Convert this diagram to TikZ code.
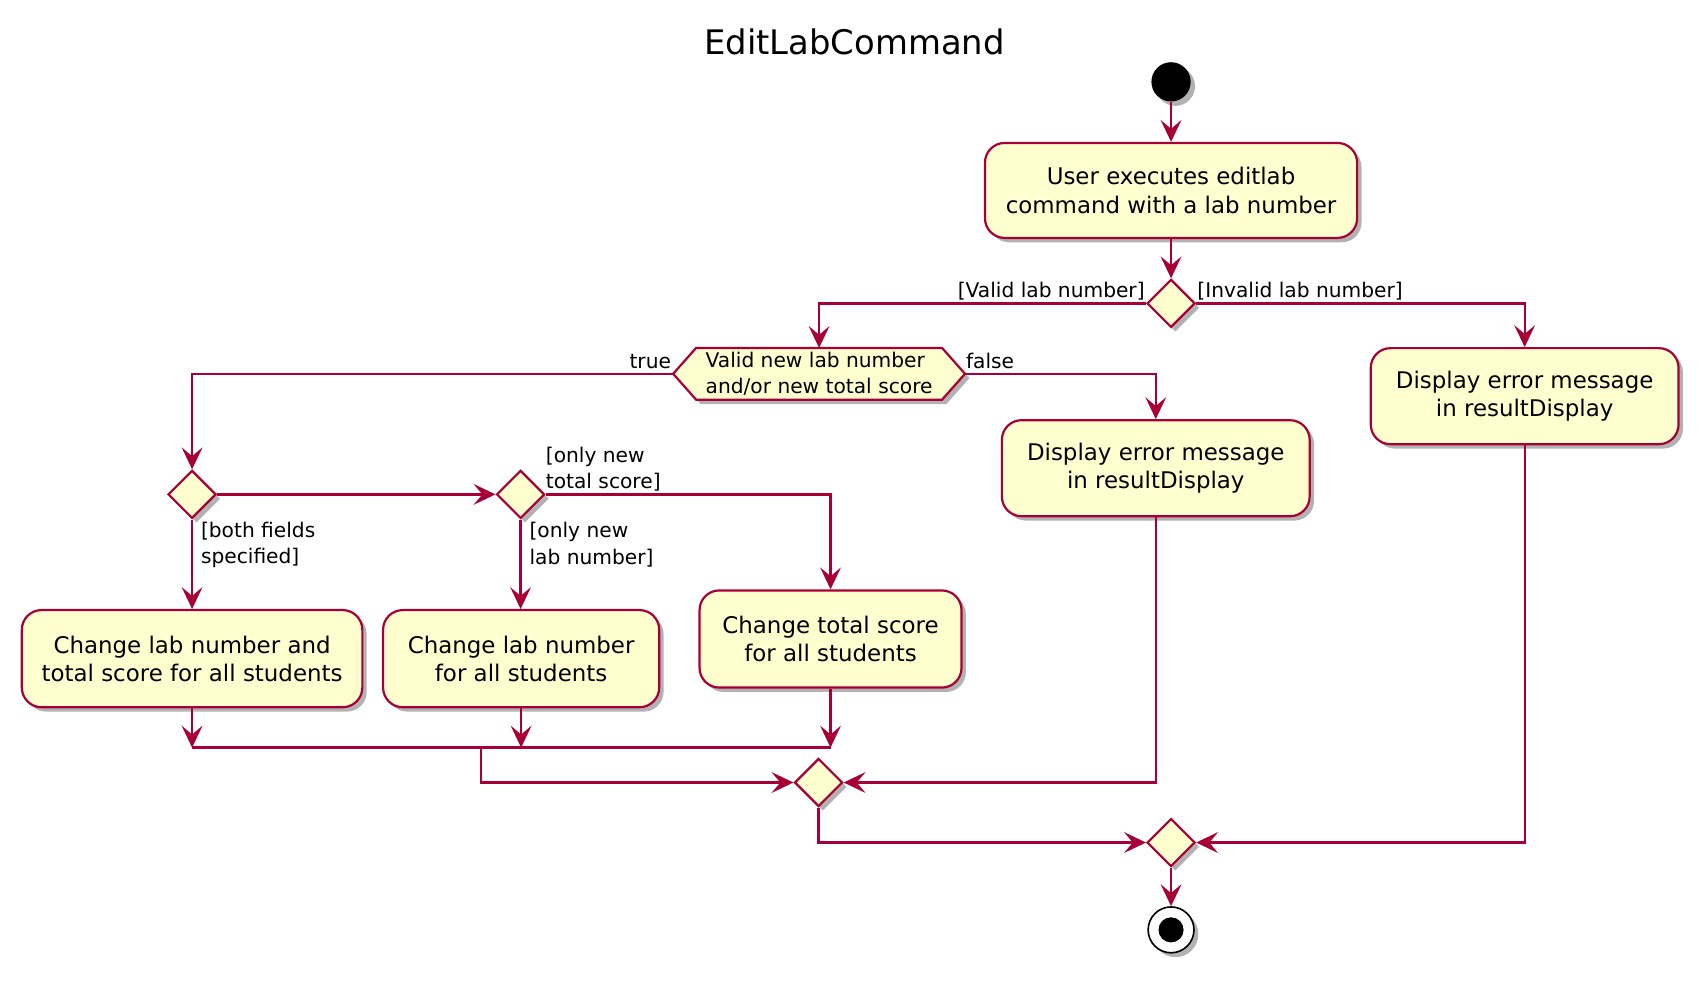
\documentclass[tikz,border=0pt]{standalone}
\usepackage{fontspec}
\setmainfont{DejaVu Sans}
\usetikzlibrary{shapes.geometric,arrows.meta,shadows,backgrounds}
\definecolor{pucol}{HTML}{A80036}
\definecolor{pufill}{HTML}{FEFECE}
\tikzset{
 shad/.style={drop shadow={shadow xshift=4pt,shadow yshift=-4pt,fill=black,opacity=0.3}},
 act/.style={rectangle, rounded corners=18pt, draw=pucol, fill=pufill, line width=2pt, shad, align=center, font=\fontsize{21}{26}\selectfont, inner sep=0pt},
 dec/.style={diamond, draw=pucol, fill=pufill, line width=2pt, shad, minimum width=44pt, minimum height=44pt, inner sep=0pt},
 flow/.style={draw=pucol, line width=2.1pt},
 arr/.style={flow, -{Stealth[length=20pt,width=19pt,inset=8pt]}},
 lbl/.style={font=\fontsize{18.5}{24}\selectfont, inner sep=0pt, align=left},
}
\begin{document}
\begin{tikzpicture}[x=1pt,y=-1pt]
\useasboundingbox (0,0) rectangle (1565,899);
\node[font=\fontsize{31}{36}\selectfont] (title) at (783,38) {EditLabCommand};
\node[circle, fill=black, minimum size=36pt, inner sep=0pt, shad] (start) at (1073,75) {};
\node[act, minimum width=341pt, minimum height=87pt] (box1) at (1073,174.5) {User executes editlab\\command with a lab number};
\node[dec] (d1) at (1073,278) {};
\node[lbl, anchor=east] (lvalid) at (1049,267) {[Valid lab number]};
\node[lbl, anchor=west] (linvalid) at (1097,267) {[Invalid lab number]};
% hexagon
\node[lbl, minimum width=267pt, minimum height=47pt] (hex) at (750.5,342.5) {Valid new lab number\\and/or new total score};
\begin{pgfonlayer}{background}
\path[draw=pucol, fill=pufill, line width=2pt, shad] (hex.west) -- ([xshift=21pt]hex.north west) -- ([xshift=-21pt]hex.north east) -- (hex.east) -- ([xshift=-21pt]hex.south east) -- ([xshift=21pt]hex.south west) -- cycle;
\end{pgfonlayer}
\node[lbl, anchor=east] (ltrue) at (615,331) {true};
\node[lbl, anchor=west] (lfalse) at (885,331) {false};
\node[act, minimum width=282pt, minimum height=88pt] (boxM) at (1059,429) {Display error message\\in resultDisplay};
\node[act, minimum width=282pt, minimum height=88pt] (boxR) at (1397,363) {Display error message\\in resultDisplay};
\node[dec] (d2) at (176,453) {};
\node[dec] (d3) at (477,453) {};
\node[lbl, anchor=west] (lts) at (500,430) {[only new\\total score]};
\node[lbl, anchor=west] (lboth) at (184,499) {[both fields\\specified]};
\node[lbl, anchor=west] (lln) at (485,499) {[only new\\lab number]};
\node[act, minimum width=312pt, minimum height=89pt] (boxA) at (176,603.5) {Change lab number and\\total score for all students};
\node[act, minimum width=253pt, minimum height=89pt] (boxB) at (477.5,603.5) {Change lab number\\for all students};
\node[act, minimum width=240pt, minimum height=89pt] (boxC) at (761,585.5) {Change total score\\for all students};
\node[dec] (d4) at (750,717) {};
\node[dec] (d5) at (1073,772) {};
\node[circle, draw=black, fill=white, line width=1.5pt, minimum size=42pt, inner sep=0pt, shad,
  path picture={\fill[black] (path picture bounding box.center) circle (11.5pt);}] (stop) at (1073,852) {};
\coordinate (jA) at (176,685);
\coordinate (jB) at (477.5,685);
\coordinate (jC) at (761,685);
\coordinate (jM) at (441,685);
% connectors
\draw[arr] (start) -- (box1);
\draw[arr] (box1) -- (d1);
\draw[arr] (d1.west) -| (hex.north);
\draw[arr] (d1.east) -| (boxR.north);
\draw[arr] (hex.west) -| (d2.north);
\draw[arr] (hex.east) -| (boxM.north);
\draw[arr] (d2.east) -- (d3.west);
\draw[arr] (d3.east) -| (boxC.north);
\draw[arr] (d2.south) -- (boxA.north);
\draw[arr] (d3.south) -- (boxB.north -| d3.south);
\draw[arr] (boxA.south) -- (jA);
\draw[arr] (boxB.south) -- (jB);
\draw[arr] (boxC.south) -- (jC);
\draw[flow] (jA) -- (jC);
\draw[arr] (jM) |- (d4.west);
\draw[arr] (boxM.south) |- (d4.east);
\draw[arr] (d4.south) |- (d5.west);
\draw[arr] (boxR.south) |- (d5.east);
\draw[arr] (d5) -- (stop);
\end{tikzpicture}
\end{document}
